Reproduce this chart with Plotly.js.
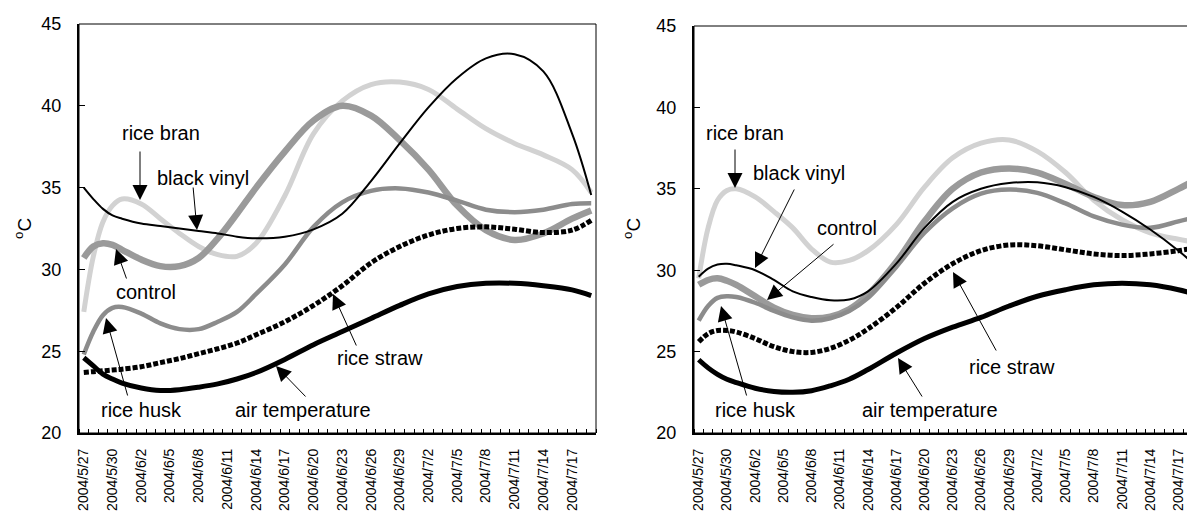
<!DOCTYPE html>
<html><head><meta charset="utf-8">
<script src="https://cdn.plot.ly/plotly-3.0.1.min.js"></script>
<style>html,body{margin:0;padding:0;overflow:hidden;background:#fff;width:1187px;height:513px}#chart{width:1230px;height:513px}</style>
</head><body><div id="chart"></div><script>
// sample dates (2004)
const dates = ['2004-05-27','2004-05-28','2004-05-29','2004-05-30','2004-05-31','2004-06-02','2004-06-04','2004-06-06','2004-06-08','2004-06-10','2004-06-12','2004-06-14','2004-06-17','2004-06-20','2004-06-23','2004-06-26','2004-06-29','2004-07-02','2004-07-05','2004-07-08','2004-07-11','2004-07-14','2004-07-17','2004-07-19'];
// tick labels every 3 days
const tickDates = ['2004-05-27','2004-05-30','2004-06-02','2004-06-05','2004-06-08','2004-06-11','2004-06-14','2004-06-17','2004-06-20','2004-06-23','2004-06-26','2004-06-29','2004-07-02','2004-07-05','2004-07-08','2004-07-11','2004-07-14','2004-07-17'];
const tickLabels = ['2004/5/27','2004/5/30','2004/6/2','2004/6/5','2004/6/8','2004/6/11','2004/6/14','2004/6/17','2004/6/20','2004/6/23','2004/6/26','2004/6/29','2004/7/2','2004/7/5','2004/7/8','2004/7/11','2004/7/14','2004/7/17'];

// Left panel
const L_blackVinyl = [35.0,34.3,33.7,33.3,33.1,32.8,32.65,32.5,32.35,32.2,32.0,31.9,32.0,32.45,33.4,35.4,37.7,39.9,41.7,42.9,43.15,42.1,38.3,34.55];
const L_riceBran   = [27.4,30.8,32.9,33.9,34.3,34.0,33.1,32.2,31.4,30.9,30.8,31.6,34.5,38.3,40.3,41.3,41.45,41.0,39.8,38.6,37.7,37.0,36.1,34.7];
const L_control    = [30.7,31.4,31.6,31.5,31.2,30.6,30.2,30.2,30.7,31.9,33.4,35.0,37.2,39.1,40.0,39.4,37.9,36.1,33.9,32.4,31.8,32.2,33.1,33.6];
const L_riceHusk   = [24.8,26.2,27.2,27.65,27.7,27.3,26.7,26.35,26.35,26.8,27.4,28.5,30.3,32.6,34.1,34.8,34.95,34.7,34.2,33.65,33.5,33.65,34.0,34.05];
const L_riceStraw  = [23.7,23.75,23.8,23.85,23.9,24.05,24.3,24.55,24.85,25.15,25.5,26.0,26.8,27.8,29.0,30.4,31.4,32.1,32.5,32.6,32.45,32.25,32.4,33.0];
const L_airTemp    = [24.6,24.1,23.6,23.3,23.05,22.75,22.6,22.65,22.8,23.0,23.3,23.7,24.5,25.4,26.2,27.0,27.8,28.5,28.95,29.15,29.15,29.0,28.75,28.4];

// Right panel
const R_blackVinyl = [29.6,30.1,30.35,30.4,30.3,30.0,29.4,28.7,28.35,28.15,28.2,28.7,30.4,32.6,34.2,35.0,35.35,35.4,35.1,34.5,33.6,32.5,31.2,30.2];
const R_riceBran   = [29.5,32.6,34.3,34.9,35.0,34.5,33.6,32.6,31.3,30.5,30.6,31.2,32.8,35.1,36.9,37.8,38.0,37.3,36.0,34.3,33.1,32.3,31.9,31.7];
const R_control    = [29.1,29.4,29.5,29.35,29.1,28.4,27.7,27.25,27.05,27.15,27.6,28.5,30.5,33.0,35.0,36.0,36.25,36.0,35.3,34.5,34.0,34.2,35.0,35.6];
const R_riceHusk   = [26.9,27.8,28.3,28.4,28.35,28.0,27.5,27.1,26.9,27.05,27.5,28.3,30.2,32.3,33.8,34.7,34.95,34.75,34.1,33.3,32.8,32.6,33.0,33.3];
const R_riceStraw  = [25.6,26.1,26.3,26.3,26.2,25.8,25.3,25.0,24.95,25.2,25.7,26.4,27.7,29.2,30.4,31.2,31.55,31.5,31.25,31.0,30.9,31.0,31.2,31.4];
const R_airTemp    = [24.5,24.0,23.6,23.3,23.1,22.75,22.55,22.5,22.6,22.9,23.3,23.9,24.9,25.8,26.5,27.1,27.8,28.4,28.8,29.1,29.2,29.1,28.8,28.5];

const seriesNames = ['rice bran','control','rice husk','black vinyl','rice straw','air temperature'];
const styles = {
  'rice bran':      {color:'#d2d2d2', width:5},
  'control':        {color:'#9a9a9a', width:6.5},
  'rice husk':      {color:'#8c8c8c', width:4.5},
  'black vinyl':    {color:'#000000', width:2},
  'rice straw':     {color:'#000000', width:5, dash:'5px,2px'},
  'air temperature':{color:'#000000', width:5}
};
const leftData  = {'rice bran':L_riceBran,'control':L_control,'rice husk':L_riceHusk,'black vinyl':L_blackVinyl,'rice straw':L_riceStraw,'air temperature':L_airTemp};
const rightData = {'rice bran':R_riceBran,'control':R_control,'rice husk':R_riceHusk,'black vinyl':R_blackVinyl,'rice straw':R_riceStraw,'air temperature':R_airTemp};

const traces = [];
[['x','y',leftData],['x2','y2',rightData]].forEach(([xa,ya,d])=>{
  seriesNames.forEach(n=>{
    const s = styles[n];
    traces.push({x:dates, y:d[n], xaxis:xa, yaxis:ya, type:'scatter', mode:'lines', name:n,
      line:{color:s.color, width:s.width, dash:s.dash||'solid', shape:'spline', smoothing:1}, hoverinfo:'skip'});
  });
});

const W=1230, H=513, ML=79, MR=28, MT=24, MB=80;
const PW=W-ML-MR, PH=H-MT-MB;
const px = x => (x-ML)/PW;
const py = y => (H-MB-y)/PH;
const FONT='Liberation Sans, Arial, sans-serif';

const xRange=['2004-05-26 12:00','2004-07-19 12:00'];
function xaxisDef(domain){
  return {domain:domain, type:'date', range:xRange, tickmode:'array', tickvals:tickDates, ticktext:tickLabels,
    tickangle:-90, ticks:'', showgrid:false, zeroline:false, showline:true, linecolor:'#000', linewidth:2,
    tickfont:{family:FONT,size:14,color:'#000'}, ticklabelstandoff:8,
    minor:{tickmode:'linear', tick0:'2004-05-26 12:00', dtick:86400000, ticks:'inside', ticklen:4, tickwidth:1, tickcolor:'#000', showgrid:false}};
}
function yaxisDef(domain, anchor){
  return {domain:domain, anchor:anchor, range:[20,45], tickmode:'linear', tick0:20, dtick:5, ticks:'inside', ticklen:6, tickwidth:1, tickcolor:'#000',
    showgrid:false, zeroline:false, showline:true, linecolor:'#000', linewidth:2,
    tickfont:{family:FONT,size:18,color:'#000'}, ticklabelstandoff:12};
}

const texts = [
  ['rice bran',161,133],['black vinyl',203,178],['control',146,292],['rice husk',141,410],['air temperature',303,410],['rice straw',380,358],
  ['rice bran',745,133],['black vinyl',799,173],['control',847,228],['rice husk',755,410],['air temperature',930,410],['rice straw',1012,367]
];
const arrows = [
  [140,150,140,200],[193,186,197,230],[127,280,116,249],[128,397,106,318],[307,398,276,366],[357,347,333,294],
  [735,148,735,188],[795,188,755,268],[835,243,767,300],[747,397,721,306],[923,398,898,358],[997,352,953,272]
];
const annotations = [];
texts.forEach(([t,x,y])=>annotations.push({text:t, xref:'paper', yref:'paper', x:px(x), y:py(y), xanchor:'center', yanchor:'middle', showarrow:false, font:{family:FONT,size:20,color:'#000'}}));
arrows.forEach(([x0,y0,x1,y1])=>annotations.push({text:'', xref:'paper', yref:'paper', x:px(x1), y:py(y1), ax:x0-x1, ay:y0-y1, axref:'pixel', ayref:'pixel',
  showarrow:true, arrowhead:2, arrowsize:3, arrowwidth:1, arrowcolor:'#000', standoff:0, startstandoff:0}));
[[23,229],[632,229]].forEach(([x,y])=>annotations.push({text:'<sup>o</sup>C', xref:'paper', yref:'paper', x:px(x), y:py(y), textangle:-90, showarrow:false, xanchor:'center', yanchor:'middle', font:{family:FONT,size:19,color:'#000'}}));

const x1Dom=[0,517/PW], x2Dom=[615/PW,1];
const layout = {
  width:W, height:H, margin:{l:ML,r:MR,t:MT,b:MB}, paper_bgcolor:'#fff', plot_bgcolor:'#fff', showlegend:false,
  xaxis:Object.assign(xaxisDef(x1Dom),{anchor:'y'}),
  yaxis:yaxisDef([0,1],'x'),
  xaxis2:Object.assign(xaxisDef(x2Dom),{anchor:'y2'}),
  yaxis2:yaxisDef([0,407/PH],'x2'),
  shapes:[
    {type:'rect', xref:'x domain', yref:'y domain', x0:0,x1:1,y0:0,y1:1, line:{color:'#000',width:1}},
    {type:'rect', xref:'x2 domain', yref:'y2 domain', x0:0,x1:1,y0:0,y1:1, line:{color:'#000',width:1}}
  ],
  annotations:annotations
};
Plotly.newPlot('chart', traces, layout, {staticPlot:true, displayModeBar:false});
</script></body></html>
